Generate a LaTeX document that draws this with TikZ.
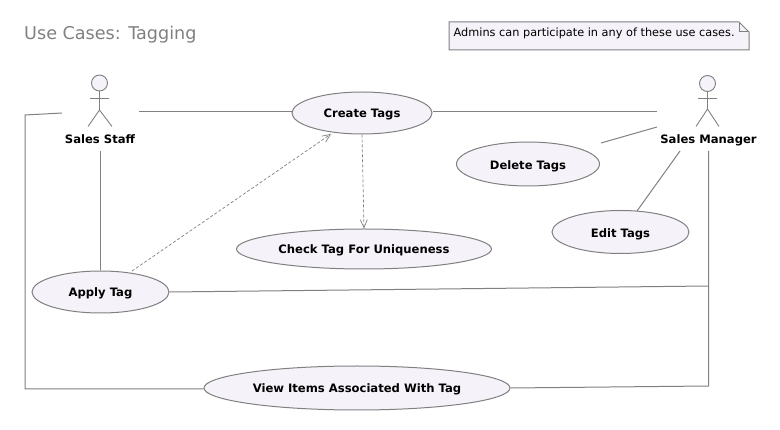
\documentclass[tikz,border=0pt]{standalone}
\usepackage{fontspec}
\setmainfont{DejaVu Sans}
\usetikzlibrary{arrows.meta,shapes.geometric}
\definecolor{umlline}{HTML}{808080}
\definecolor{umlfill}{HTML}{F6F2F9}
\tikzset{
  x=1pt,y=-1pt,
  conn/.style={draw=umlline,line width=1pt},
  dep/.style={conn,densely dashed,line width=0.7pt,-{Straight Barb[length=8pt,width=7pt,line width=0.7pt]}},
  usecase/.style={ellipse,draw=umlline,fill=umlfill,line width=1pt,inner sep=0pt,text height=10pt,text depth=0pt,font=\fontsize{11.6}{13}\selectfont\bfseries,text=black},
  lowercase/.style={usecase,text height=11pt},
  actorlabel/.style={inner sep=0pt,text height=10pt,text depth=0pt,font=\fontsize{11.6}{13}\selectfont\bfseries,text=black},
  actorbody/.style={draw=umlline,line width=0.9pt},
  actorhead/.style={circle,draw=umlline,fill=umlfill,line width=0.9pt,minimum size=16pt,inner sep=0pt}
}
\begin{document}
\begin{tikzpicture}
\useasboundingbox (0,0) rectangle (780,430);
\node[anchor=base west,inner sep=0pt,text=umlline,font=\fontsize{17.6}{20}\selectfont] (title) at (24,39.5) {Use Cases: Tagging};
% note
\draw[draw=umlline,fill=umlfill,line width=1pt] (449,22) -- (739,22) -- (749,32) -- (749,50) -- (449,50) -- cycle;
\draw[draw=umlline,line width=1pt] (739,22) -- (739,32) -- (749,32);
\node[anchor=base west,inner sep=0pt,font=\fontsize{11.3}{13}\selectfont,text=black] (note) at (453.5,37) {Admins can participate in any of these use cases.};
% use cases
\node[usecase,minimum width=140pt,minimum height=42pt] (create) at (362,113) {Create Tags};
\node[lowercase,minimum width=143pt,minimum height=44pt] (delete) at (528,164) {Delete Tags};
\node[lowercase,minimum width=137pt,minimum height=43pt] (edit) at (620.5,232) {Edit Tags};
\node[usecase,minimum width=255pt,minimum height=40pt] (check) at (364,249) {Check Tag For Uniqueness};
\node[usecase,minimum width=137pt,minimum height=42pt] (apply) at (100.5,292) {Apply Tag};
\node[usecase,minimum width=306pt,minimum height=44pt] (view) at (357,388) {View Items Associated With Tag};
% actors
\node[actorhead] (staffhead) at (99.5,83) {};
\coordinate (staffhip) at (99.5,110);
\draw[actorbody] (staffhead.south) -- (staffhip);
\draw[actorbody] (90,98.5) -- (109,98.5);
\draw[actorbody] (88,126.5) -- (staffhip) -- (112,126.5);
\node[actorlabel] (staff) at (100,139) {Sales Staff};
\node[actorhead] (mgrhead) at (707.5,83.5) {};
\coordinate (mgrhip) at (707.5,109);
\draw[actorbody] (mgrhead.south) -- (mgrhip);
\draw[actorbody] (698,98.5) -- (717,98.5);
\draw[actorbody] (696,126.5) -- (mgrhip) -- (719,126.5);
\node[actorlabel] (mgr) at (708.5,139) {Sales Manager};
% connector ends
\coordinate (sR) at (139,112);
\coordinate (sL) at (62,113);
\coordinate (sB) at (100.3,151);
\coordinate (mL) at (657,112);
\coordinate (mD) at (657,127);
\coordinate (mE) at (680,151);
\coordinate (mB) at (708.5,151);
\coordinate (mJ) at (708.5,286);
\coordinate (dT) at (601,143);
\coordinate (eT) at (637,211);
\coordinate (aT) at (132,271);
\coordinate (cB) at (331,134);
\coordinate (corner1) at (25,115);
\coordinate (corner2) at (25,389);
\coordinate (corner3) at (708.5,386);
% connectors
\draw[conn] (sR) -- (create.west |- sR);
\draw[conn] (create.east |- mL) -- (mL);
\draw[conn] (sL) -- (corner1) -- (corner2) -- (view.west |- corner2);
\draw[conn] (sB) -- (sB |- apply.north);
\draw[conn] (dT) -- (mD);
\draw[conn] (eT) -- (mE);
\draw[conn] (mB) -- (mJ) -- (apply.east);
\draw[conn] (mJ) -- (corner3) -- (view.east);
\draw[dep] (aT) -- (cB);
\draw[dep] (create.south) -- (check.north);
\end{tikzpicture}
\end{document}
